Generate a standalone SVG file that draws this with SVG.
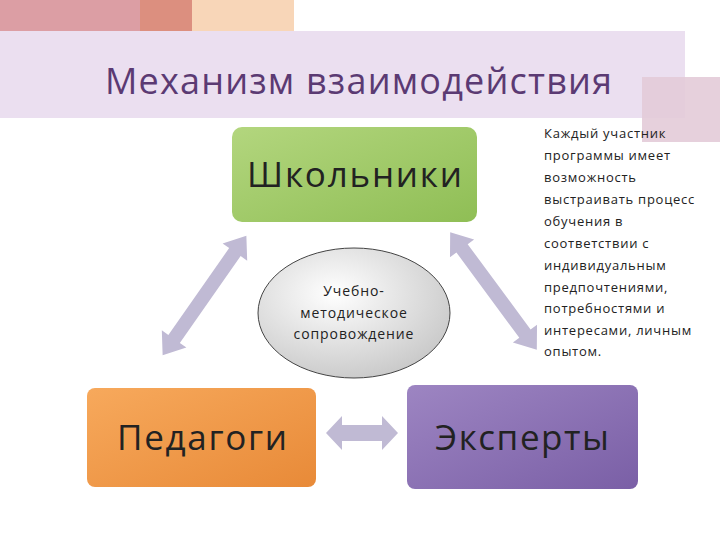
<svg xmlns="http://www.w3.org/2000/svg" width="720" height="540" viewBox="0 0 720 540">
<defs>
<linearGradient id="gG" x1="0" y1="0" x2="1" y2="1"><stop offset="0" stop-color="#b3d67e"/><stop offset="1" stop-color="#8fbe55"/></linearGradient>
<linearGradient id="gO" x1="0" y1="0" x2="1" y2="1"><stop offset="0" stop-color="#f7a95c"/><stop offset="1" stop-color="#e88a38"/></linearGradient>
<linearGradient id="gP" x1="0" y1="0" x2="1" y2="1"><stop offset="0" stop-color="#9d85c2"/><stop offset="1" stop-color="#7a5fa6"/></linearGradient>
<radialGradient id="gE" cx="0.4" cy="0.35" r="0.7"><stop offset="0" stop-color="#ffffff"/><stop offset="1" stop-color="#c8c8c8"/></radialGradient>
<style>
.arr{fill:#c0bad4}
.lbl{font-family:"Open Sans","DejaVu Sans",sans-serif;fill:#222}
.note{font-family:"Open Sans","DejaVu Sans",sans-serif;font-size:13px;letter-spacing:0.75px;fill:#222}
</style>
</defs>
<rect x="0" y="0" width="140" height="43" fill="#dc9ea4"/>
<rect x="140" y="0" width="52" height="43" fill="#dc8f7f"/>
<rect x="192" y="0" width="102" height="43" fill="#f8d6b8"/>
<rect x="0" y="31" width="685" height="87" fill="#ebdff0"/>
<rect x="642" y="77" width="78" height="65" fill="#e3cbd8" opacity="0.9"/>
<text x="105" y="94" textLength="507" lengthAdjust="spacing" font-family="Open Sans, DejaVu Sans, sans-serif" font-size="36" fill="#5b3a73">Механизм взаимодействия</text>
<g id="connectors" class="arr">
<path transform="translate(204.5,295.5) rotate(-55)" d="M-73,0 L-53,-15 L-53,-7 L53,-7 L53,-15 L73,0 L53,15 L53,7 L-53,7 L-53,15 Z"/>
<path transform="translate(493.5,291) rotate(53.6)" d="M-73,0 L-53,-15 L-53,-7 L53,-7 L53,-15 L73,0 L53,15 L53,7 L-53,7 L-53,15 Z"/>
<path transform="translate(362,433)" d="M-36,0 L-20,-17 L-20,-8 L20,-8 L20,-17 L36,0 L20,17 L20,8 L-20,8 L-20,17 Z"/>
</g>
<g id="school"><rect x="232" y="127" width="245" height="95" rx="10" fill="url(#gG)"/>
<text x="247" y="187" textLength="215" lengthAdjust="spacing" class="lbl" font-size="35">Школьники</text></g>
<g id="support"><ellipse cx="354" cy="313" rx="96" ry="65" fill="url(#gE)" stroke="#444" stroke-width="1"/>
<text class="lbl" font-size="14" letter-spacing="0.9" text-anchor="middle"><tspan x="354" y="296">Учебно-</tspan><tspan x="354" y="318">методическое</tspan><tspan x="354" y="339">сопровождение</tspan></text></g>
<g id="teachers"><rect x="87" y="388" width="229" height="99" rx="8" fill="url(#gO)"/>
<text x="117" y="450" textLength="170" lengthAdjust="spacing" class="lbl" font-size="35">Педагоги</text></g>
<g id="experts"><rect x="407" y="385" width="231" height="104" rx="8" fill="url(#gP)"/>
<text x="435" y="450" textLength="174" lengthAdjust="spacing" class="lbl" font-size="35">Эксперты</text></g>
<text class="note"><tspan x="544" y="138">Каждый участник</tspan><tspan x="544" y="160">программы имеет</tspan><tspan x="544" y="182">возможность</tspan><tspan x="544" y="204">выстраивать процесс</tspan><tspan x="544" y="226">обучения  в</tspan><tspan x="544" y="248">соответствии с</tspan><tspan x="544" y="270">индивидуальным</tspan><tspan x="544" y="292">предпочтениями,</tspan><tspan x="544" y="313">потребностями и</tspan><tspan x="544" y="335">интересами, личным</tspan><tspan x="544" y="356">опытом.</tspan></text>
</svg>
